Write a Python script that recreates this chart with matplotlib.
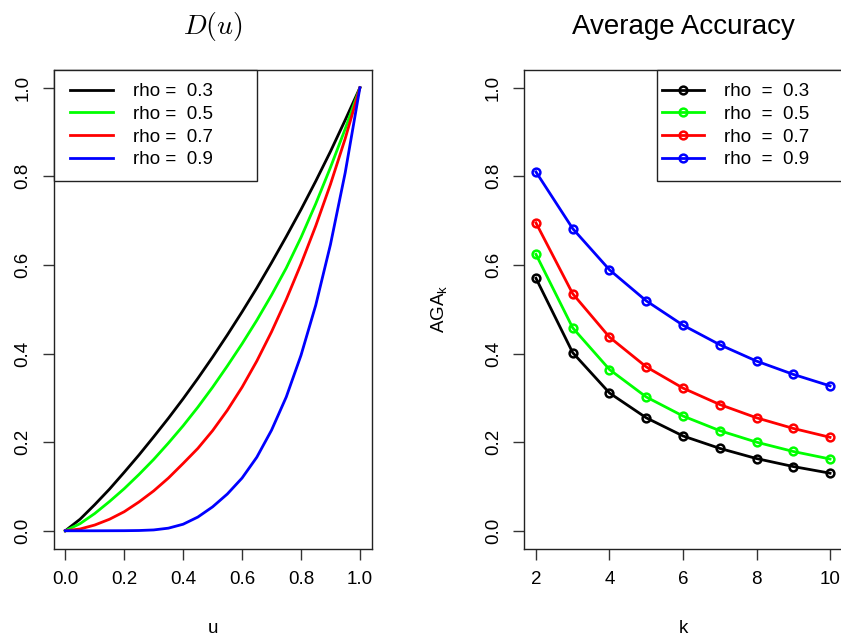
import matplotlib
matplotlib.use("Agg")
import matplotlib.pyplot as plt
from matplotlib.legend_handler import HandlerLine2D

plt.rcParams['font.family'] = ['Liberation Sans', 'DejaVu Sans']

# ---------------- data ----------------
rho_labels = ["0.3", "0.5", "0.7", "0.9"]
colors = ["#000000", "#00FF00", "#FF0000", "#0000FF"]

# Left panel: D(u) curves
u = [0.00, 0.05, 0.10, 0.15, 0.20, 0.25, 0.30, 0.35, 0.40, 0.45, 0.50,
     0.55, 0.60, 0.65, 0.70, 0.75, 0.80, 0.85, 0.90, 0.95, 1.00]
D_rho03 = [0.000, 0.026, 0.059, 0.094, 0.132, 0.171, 0.212, 0.254, 0.298, 0.344, 0.392,
           0.442, 0.494, 0.548, 0.605, 0.664, 0.725, 0.789, 0.856, 0.927, 1.000]
D_rho05 = [0.000, 0.016, 0.039, 0.066, 0.095, 0.127, 0.161, 0.198, 0.237, 0.279, 0.324,
           0.372, 0.422, 0.475, 0.532, 0.593, 0.662, 0.738, 0.820, 0.907, 1.000]
D_rho07 = [0.000, 0.004, 0.013, 0.026, 0.043, 0.065, 0.090, 0.119, 0.152, 0.186, 0.226,
           0.272, 0.324, 0.383, 0.449, 0.522, 0.602, 0.688, 0.782, 0.885, 1.000]
D_rho09 = [0.000, 0.000, 0.000, 0.0001, 0.0002, 0.0006, 0.0019, 0.0059, 0.0148, 0.031, 0.054,
           0.083, 0.119, 0.166, 0.227, 0.302, 0.396, 0.509, 0.646, 0.808, 1.000]

# Right panel: average accuracy AGA_k
k = [2, 3, 4, 5, 6, 7, 8, 9, 10]
aga_rho03 = [0.570, 0.402, 0.311, 0.255, 0.214, 0.186, 0.163, 0.145, 0.130]
aga_rho05 = [0.624, 0.458, 0.364, 0.302, 0.259, 0.226, 0.200, 0.179, 0.162]
aga_rho07 = [0.695, 0.535, 0.437, 0.370, 0.322, 0.285, 0.255, 0.231, 0.211]
aga_rho09 = [0.810, 0.682, 0.589, 0.519, 0.464, 0.420, 0.383, 0.353, 0.327]

u_ticks = [0.0, 0.2, 0.4, 0.6, 0.8, 1.0]
u_ticklabels = ["0.0", "0.2", "0.4", "0.6", "0.8", "1.0"]
k_ticks = [2, 4, 6, 8, 10]
k_ticklabels = ["2", "4", "6", "8", "10"]
y_ticks = [0.0, 0.2, 0.4, 0.6, 0.8, 1.0]
y_ticklabels = ["0.0", "0.2", "0.4", "0.6", "0.8", "1.0"]

D_series = [D_rho03, D_rho05, D_rho07, D_rho09]
aga_series = [aga_rho03, aga_rho05, aga_rho07, aga_rho09]

# ---------------- figure ----------------
W, H = 841, 639
fig = plt.figure(figsize=(W / 100, H / 100), dpi=100)
fig.patch.set_facecolor("white")

axL = fig.add_axes([53.5 / W, (H - 548.5) / H, 318.2 / W, 478.5 / H])
axR = fig.add_axes([524.2 / W, (H - 548.5) / H, 317.6 / W, 478.5 / H])

FS = 13.5
LW = 2.0

for ys, c in zip(D_series, colors):
    axL.plot(u, ys, color=c, lw=LW, solid_joinstyle="round")

for ys, c in zip(aga_series, colors):
    axR.plot(k, ys, color=c, lw=LW, marker="o", ms=5.6, mew=1.8,
             mfc="none", mec=c)

def style(ax, xticks, xticklabels, xlim):
    ax.set_xlim(*xlim)
    ax.set_ylim(-0.04, 1.04)
    ax.set_xticks(xticks)
    ax.set_xticklabels(xticklabels)
    ax.set_yticks(y_ticks)
    ax.set_yticklabels(y_ticklabels, rotation=90, va="center")
    ax.tick_params(axis="both", direction="out", length=8, width=1.0,
                   labelsize=FS, color="#333333")
    ax.tick_params(axis="x", pad=8.5)
    ax.tick_params(axis="y", pad=8)
    for s in ax.spines.values():
        s.set_linewidth(1.0)
        s.set_color("#222222")

style(axL, u_ticks, u_ticklabels, (-0.04, 1.04))
style(axR, k_ticks, k_ticklabels, (1.68, 10.32))

# titles
axL.set_title(r"$D(u)$", fontsize=20, pad=26, math_fontfamily="cm")
axR.set_title("Average Accuracy", fontsize=20, pad=26)

# axis labels
axL.set_xlabel("u", fontsize=FS, va="center")
axL.xaxis.set_label_coords(0.5, -0.168)
axR.set_xlabel("k", fontsize=FS, va="center")
axR.xaxis.set_label_coords(0.5, -0.168)
axR.set_ylabel(r"AGA$_{\mathregular{k}}$", fontsize=FS, va="center")
axR.yaxis.set_label_coords(-0.265, 0.5)

# legends
labL = ["rho =  " + r for r in rho_labels]
labR = ["rho  =  " + r for r in rho_labels]

common = dict(borderaxespad=0, fontsize=FS, frameon=True, fancybox=False,
              edgecolor="#222222", framealpha=1, borderpad=0.69,
              labelspacing=0.30, handletextpad=1.07, numpoints=1,
              mode="expand", loc="upper left")

hL = axL.get_lines()
legL = axL.legend(hL, labL, bbox_to_anchor=(0, 1, 0.639, 0), handlelength=2.49,
                  handler_map={l: HandlerLine2D(xpad=0.19) for l in hL}, **common)
legL.get_frame().set_linewidth(1.0)

hR = axR.get_lines()
legR = axR.legend(hR, labR, bbox_to_anchor=(0.417, 1, 0.583, 0), handlelength=1.83,
                  handler_map={l: HandlerLine2D(xpad=-0.405) for l in hR}, **common)
legR.get_frame().set_linewidth(1.0)

fig.savefig("out.png", dpi=100)
